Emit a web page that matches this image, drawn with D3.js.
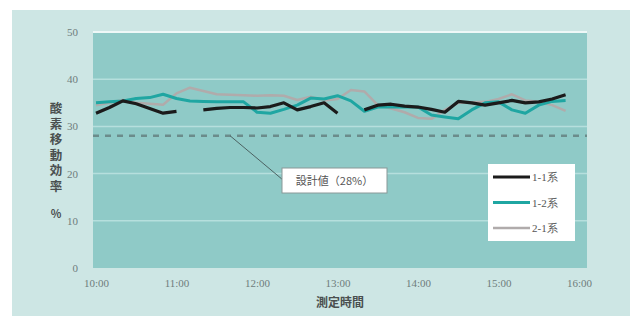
<!DOCTYPE html>
<html>
<head>
<meta charset="utf-8">
<script src="https://cdn.jsdelivr.net/npm/d3@7"></script>
<style>
  html, body { margin: 0; padding: 0; background: #ffffff; }
  svg { display: block; }
</style>
</head>
<body>
<svg id="chart" width="643" height="322"></svg>
<script>
// Measurement times, every 10 minutes from 10:00 to 15:50 (minutes after 10:00)
const minutes = d3.range(0, 360, 10);
// Oxygen transfer efficiency (%), null = no measurement
const s11 = [32.8, 34.0, 35.4, 34.8, 33.8, 32.8, 33.2, null, 33.5, 33.8, 34.0, 34.0,
             33.9, 34.2, 35.0, 33.5, 34.2, 35.0, 32.8, null, 33.5, 34.5, 34.7, 34.3,
             34.1, 33.6, 33.0, 35.3, 35.0, 34.5, 35.0, 35.5, 35.0, 35.2, 35.8, 36.7];
const s12 = [35.0, 35.2, 35.4, 35.9, 36.1, 36.8, 35.9, 35.4, 35.3, 35.2, 35.2, 35.2,
             33.0, 32.8, 33.6, 34.5, 36.0, 35.8, 36.5, 35.4, 33.2, 34.1, 34.1, 34.1,
             34.1, 32.4, 32.0, 31.6, 33.5, 35.0, 35.2, 33.5, 32.8, 34.5, 35.3, 35.5];
const s21 = [34.5, 35.0, 35.6, 35.0, 34.8, 34.6, 37.0, 38.2, 37.5, 36.8, 36.7, 36.6,
             36.5, 36.6, 36.5, 35.6, 36.3, 35.5, 35.8, 37.7, 37.4, 34.5, 33.8, 33.0,
             31.8, 31.6, 33.5, 35.0, 35.1, 35.2, 35.8, 36.8, 35.5, 35.2, 34.5, 33.3];
const seriesNames = ["1-1系", "1-2系", "2-1系"];
const seriesColors = ["#1b1b1b", "#1fa6a2", "#b0abab"];
const seriesWidths = [3.2, 3, 2.5];
const designValue = 28;
const yTicks = [0, 10, 20, 30, 40, 50];
const xTickMinutes = [0, 60, 120, 180, 240, 300, 360];
const xTickLabels = ["10:00", "11:00", "12:00", "13:00", "14:00", "15:00", "16:00"];

const SERIF = "'Liberation Serif', 'DejaVu Serif', serif";
const JP = "'Noto Sans CJK JP', 'Noto Sans', sans-serif";

const svg = d3.select("#chart");

// outer panel
svg.append("rect").attr("x", 12).attr("y", 10).attr("width", 618).attr("height", 306)
  .attr("fill", "#cde6e4");

// plot area
const plot = { left: 93, right: 587, top: 32, bottom: 268 };
svg.append("rect").attr("x", plot.left).attr("y", plot.top)
  .attr("width", plot.right - plot.left).attr("height", plot.bottom - plot.top)
  .attr("fill", "#8fcac7");

const x = d3.scaleLinear().domain([0, 360]).range([96, 579]);
const y = d3.scaleLinear().domain([0, 50]).range([plot.bottom, plot.top]);

// horizontal gridlines
svg.append("g").selectAll("line").data(yTicks.filter(t => t > 0)).join("line")
  .attr("x1", plot.left).attr("x2", plot.right)
  .attr("y1", d => y(d)).attr("y2", d => y(d))
  .attr("stroke", d => d === 50 ? "#eef8f7" : "#b6dfdd")
  .attr("stroke-width", d => d === 50 ? 2 : 1.5);

// y axis labels
const yAxis = d3.axisLeft(y).tickValues(yTicks).tickSize(0).tickPadding(0);
const gy = svg.append("g").attr("transform", `translate(78,0)`).call(yAxis);
gy.select(".domain").remove();
gy.selectAll("text").style("font-family", SERIF)
  .style("font-size", "11px").attr("fill", "#6f7d7c");

// x axis labels
const xAxis = d3.axisBottom(x).tickValues(xTickMinutes)
  .tickFormat((d, i) => xTickLabels[i]).tickSize(0).tickPadding(0);
const gx = svg.append("g").attr("transform", `translate(0,279)`).call(xAxis);
gx.select(".domain").remove();
gx.selectAll("text").style("font-family", SERIF)
  .style("font-size", "11px").attr("fill", "#6f7d7c");

// axis titles
svg.append("text").style("font-family", JP).attr("x", 340).attr("y", 307)
  .attr("text-anchor", "middle").style("font-size", "12px")
  .attr("font-weight", "bold").attr("fill", "#4a4f4f").text("測定時間");
svg.append("text").style("font-family", JP)
  .attr("transform", "translate(56,102)")
  .style("writing-mode", "vertical-rl").style("letter-spacing", "3px")
  .style("font-size", "12.5px").attr("font-weight", "bold").attr("fill", "#4a4f4f")
  .text("酸素移動効率");
svg.append("text").style("font-family", JP).attr("x", 56).attr("y", 218)
  .attr("text-anchor", "middle").style("font-size", "11px")
  .attr("font-weight", "bold").attr("fill", "#4a4f4f").text("%");

// design value line
svg.append("line").attr("x1", plot.left).attr("x2", plot.right)
  .attr("y1", y(designValue)).attr("y2", y(designValue))
  .attr("stroke", "#6b8c8b").attr("stroke-width", 2.5).attr("stroke-dasharray", "6,6");

// data lines
const allSeries = [s11, s12, s21];
const line = d3.line().defined(d => d.v !== null)
  .x(d => x(d.m)).y(d => y(d.v));
[2, 1, 0].forEach(k => {
  const pts = minutes.map((m, i) => ({ m, v: allSeries[k][i] }));
  svg.append("path").datum(pts).attr("d", line)
    .attr("fill", "none").attr("stroke", seriesColors[k])
    .attr("stroke-width", seriesWidths[k]).attr("stroke-linejoin", "round");
});

// annotation: design value
svg.append("line").attr("x1", x(100)).attr("y1", y(designValue))
  .attr("x2", 283).attr("y2", 180).attr("stroke", "#4c6262").attr("stroke-width", 1);
svg.append("rect").attr("x", 282).attr("y", 168).attr("width", 105).attr("height", 25)
  .attr("fill", "#ffffff").attr("stroke", "#8a9898").attr("stroke-width", 1);
svg.append("text").style("font-family", JP).attr("x", 334.5).attr("y", 185)
  .attr("text-anchor", "middle").style("font-size", "11px")
  .attr("fill", "#555").text(`設計値（${designValue}%）`);

// legend
const legend = svg.append("g");
legend.append("rect").attr("x", 488).attr("y", 164).attr("width", 87).attr("height", 77)
  .attr("fill", "#ffffff");
seriesNames.forEach((name, k) => {
  const ly = 177 + k * 25.5;
  legend.append("line").attr("x1", 493).attr("x2", 530).attr("y1", ly).attr("y2", ly)
    .attr("stroke", seriesColors[k]).attr("stroke-width", seriesWidths[k]);
  legend.append("text").style("font-family", SERIF).attr("x", 532).attr("y", ly + 4)
    .style("font-size", "11px").attr("fill", "#555").text(name);
});
</script>
</body>
</html>
